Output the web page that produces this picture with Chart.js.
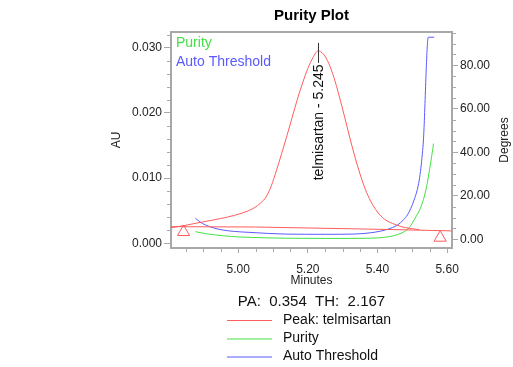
<!DOCTYPE html>
<html>
<head>
<meta charset="utf-8">
<script src="https://cdn.jsdelivr.net/npm/chart.js@4.4.1/dist/chart.umd.min.js"></script>
<style>
  html, body { margin: 0; padding: 0; background: #fff; }
  #wrap { width: 513px; height: 367px; }
</style>
</head>
<body>
<div id="wrap"><canvas id="purityChart" width="513" height="367"></canvas></div>
<script>
// 피크 곡선 (Minutes / AU)
const peakTime = [4.808, 4.843, 4.90, 4.95, 4.99, 5.02, 5.045, 5.065, 5.08, 5.095, 5.11, 5.125, 5.14, 5.155, 5.17, 5.185, 5.20, 5.215, 5.229, 5.245, 5.26, 5.275, 5.29, 5.305, 5.32, 5.335, 5.35, 5.365, 5.38, 5.40, 5.42, 5.45, 5.48, 5.52];
const peakAU = [0.0024, 0.0027, 0.0033, 0.0038, 0.0043, 0.0048, 0.0054, 0.0062, 0.0071, 0.0088, 0.0112, 0.0138, 0.0165, 0.0193, 0.0221, 0.0246, 0.0268, 0.0285, 0.0295, 0.0290, 0.0276, 0.0254, 0.0226, 0.0195, 0.0163, 0.0133, 0.0106, 0.0083, 0.0065, 0.0048, 0.0037, 0.0029, 0.0024, 0.0021];

// 베이스라인
const baseTime = [4.807, 5.05, 5.25, 5.45, 5.614];
const baseAU = [0.00255, 0.0025, 0.0023, 0.0021, 0.0019];

// 피크 시작/끝 마커
const markerTime = [4.843, 5.580];
const markerAU = [0.00173, 0.00086];

// Purity (Degrees)
const purityTime = [4.877, 4.906, 4.935, 4.98, 5.031, 5.136, 5.25, 5.381, 5.424, 5.438, 5.458, 5.477, 5.492, 5.505, 5.525, 5.539, 5.551, 5.561];
const purityDeg = [3.5, 2.6, 2.0, 1.3, 0.9, 0.5, 0.4, 0.5, 1.0, 1.3, 2.2, 3.5, 5.5, 8.9, 15, 22.7, 33.4, 44];

// Auto Threshold (Degrees)
const thresholdTime = [4.877, 4.89, 4.906, 4.93, 4.954, 4.99, 5.031, 5.136, 5.25, 5.33, 5.381, 5.41, 5.429, 5.458, 5.475, 5.486, 5.505, 5.520, 5.529, 5.532, 5.546, 5.563];
const thresholdDeg = [9.7, 8.0, 6.6, 5.2, 4.3, 3.6, 3.2, 2.4, 2.3, 2.4, 3.0, 3.8, 4.6, 6.6, 9.0, 11.2, 18, 27.3, 39.5, 45.7, 92.9, 92.9];

// 눈금
const minuteTicks = [5.0, 5.2, 5.4, 5.6];
const auTicks = [0, 0.01, 0.02, 0.03];
const degTicks = [0, 20, 40, 60, 80];

const peakName = "telmisartan - 5.245";
const infoText = "PA:  0.354  TH:  2.167";
const legendLabels = ["Peak: telmisartan", "Purity", "Auto Threshold"];

const RED = "#ff5c5c";
const GREEN = "#44e044";
const BLUE = "#5a5aff";
const AXIS = "#a8a8a8";
const FONT = "'Liberation Sans', Arial, sans-serif";

function zip(xs, ys) {
  return xs.map((x, i) => ({ x: x, y: ys[i] }));
}

// 보조 눈금 그리기
function minorTicks(ctx, scale, from, to, step, major, vertical, edge, len) {
  ctx.beginPath();
  for (let v = from; v <= to + 1e-9; v += step) {
    const r = Math.round(v / major) * major;
    if (Math.abs(v - r) < step / 10) continue;
    const p = Math.round(scale.getPixelForValue(v)) + 0.5;
    if (vertical) {
      ctx.moveTo(edge, p);
      ctx.lineTo(edge + len, p);
    } else {
      ctx.moveTo(p, edge);
      ctx.lineTo(p, edge + len);
    }
  }
  ctx.stroke();
}

const textPlugin = {
  id: "purityText",
  afterDraw(chart) {
    const { ctx, chartArea, scales } = chart;
    const xs = scales.x, yl = scales.yAU, yr = scales.yDeg;
    ctx.save();

    // 위쪽 테두리
    ctx.strokeStyle = AXIS;
    ctx.lineWidth = 2;
    ctx.beginPath();
    ctx.moveTo(chartArea.left - 1, chartArea.top);
    ctx.lineTo(chartArea.right + 1, chartArea.top);
    ctx.stroke();

    ctx.lineWidth = 1;
    minorTicks(ctx, xs, 4.85, 5.6, 0.05, 0.2, false, chartArea.bottom, 4);
    minorTicks(ctx, yl, 0, 0.032, 0.002, 0.01, true, chartArea.left, -4);
    minorTicks(ctx, yr, 0, 95, 5, 20, true, chartArea.right, 4);

    const cx = (chartArea.left + chartArea.right) / 2;

    // 제목
    ctx.fillStyle = "#000";
    ctx.font = "bold 15px " + FONT;
    ctx.textAlign = "center";
    ctx.textBaseline = "middle";
    ctx.fillText("Purity Plot", cx, 15.5);

    // 축 제목
    ctx.fillStyle = "#222";
    ctx.font = "12px " + FONT;
    ctx.fillText("Minutes", cx, 281);
    ctx.save();
    ctx.translate(117, (chartArea.top + chartArea.bottom) / 2);
    ctx.rotate(-Math.PI / 2);
    ctx.fillText("AU", 0, 0);
    ctx.restore();
    ctx.save();
    ctx.translate(505, (chartArea.top + chartArea.bottom) / 2);
    ctx.rotate(-Math.PI / 2);
    ctx.fillText("Degrees", 0, 0);
    ctx.restore();

    // 그래프 안 범례
    ctx.font = "14px " + FONT;
    ctx.textAlign = "left";
    ctx.fillStyle = GREEN;
    ctx.fillText("Purity", chartArea.left + 5, 43.5);
    ctx.fillStyle = BLUE;
    ctx.fillText("Auto Threshold", chartArea.left + 5, 62);

    // 피크 라벨
    let top = 0;
    peakAU.forEach((v, i) => { if (v > peakAU[top]) top = i; });
    const px = Math.round(xs.getPixelForValue(peakTime[top])) + 0.5;
    const py = yl.getPixelForValue(peakAU[top]);
    ctx.strokeStyle = "#333";
    ctx.beginPath();
    ctx.moveTo(px, py - 8);
    ctx.lineTo(px, py + 12);
    ctx.stroke();
    ctx.save();
    ctx.translate(px + 1, py + 13.5);
    ctx.rotate(-Math.PI / 2);
    ctx.fillStyle = "#111";
    ctx.textAlign = "right";
    ctx.fillText(peakName, 0, 0);
    ctx.restore();

    // 아래쪽 정보와 범례
    ctx.fillStyle = "#111";
    ctx.font = "15px " + FONT;
    ctx.textAlign = "center";
    ctx.fillText(infoText, cx, 301.5);

    const rows = [320, 338.5, 356.5];
    const colors = [RED, GREEN, BLUE];
    ctx.font = "14px " + FONT;
    ctx.textAlign = "left";
    rows.forEach((y, i) => {
      ctx.strokeStyle = colors[i];
      ctx.beginPath();
      ctx.moveTo(227, y + 0.5);
      ctx.lineTo(272, y + 0.5);
      ctx.stroke();
      ctx.fillText(legendLabels[i], 283, y);
    });

    ctx.restore();
  },
};

function axisOpts(extra) {
  return Object.assign({
    type: "linear",
    grid: { drawOnChartArea: false, drawTicks: true, tickLength: 7, color: AXIS, tickColor: AXIS },
    border: { display: true, color: AXIS, width: 2 },
  }, extra);
}

const chartCtx = document.getElementById("purityChart").getContext("2d");
const chart = new Chart(chartCtx, {
  type: "line",
  data: {
    datasets: [
      {
        label: "Baseline",
        data: zip(baseTime, baseAU),
        yAxisID: "yAU",
        borderColor: RED,
        borderWidth: 1,
        pointRadius: 0,
        tension: 0,
      },
      {
        label: "Peak: telmisartan",
        data: zip(peakTime, peakAU),
        yAxisID: "yAU",
        borderColor: RED,
        borderWidth: 1,
        pointRadius: 0,
        cubicInterpolationMode: "monotone",
      },
      {
        label: "Markers",
        data: zip(markerTime, markerAU),
        yAxisID: "yAU",
        showLine: false,
        pointStyle: "triangle",
        pointRadius: 7,
        pointBorderWidth: 1,
        pointBorderColor: RED,
        pointBackgroundColor: "rgba(0,0,0,0)",
      },
      {
        label: "Purity",
        data: zip(purityTime, purityDeg),
        yAxisID: "yDeg",
        borderColor: GREEN,
        borderWidth: 1,
        pointRadius: 0,
        cubicInterpolationMode: "monotone",
      },
      {
        label: "Auto Threshold",
        data: zip(thresholdTime, thresholdDeg),
        yAxisID: "yDeg",
        borderColor: BLUE,
        borderWidth: 1,
        pointRadius: 0,
        cubicInterpolationMode: "monotone",
      },
    ],
  },
  options: {
    responsive: false,
    animation: false,
    layout: { padding: { top: 32, left: 0, right: 0, bottom: 0 } },
    plugins: { legend: { display: false }, title: { display: false }, tooltip: { enabled: false } },
    scales: {
      x: axisOpts({
        position: "bottom",
        min: 4.807,
        max: 5.614,
        grid: { drawOnChartArea: false, drawTicks: true, tickLength: 5, color: AXIS, tickColor: AXIS },
        ticks: { color: "#222", font: { size: 12, family: FONT }, padding: 9, maxRotation: 0,
          callback: (v) => Number(v).toFixed(2) },
        afterBuildTicks: (s) => { s.ticks = minuteTicks.map((v) => ({ value: v })); },
        afterFit: (s) => { s.height = 119; },
      }),
      yAU: axisOpts({
        position: "left",
        min: -0.00072,
        max: 0.0324,
        ticks: { color: "#222", font: { size: 12, family: FONT }, padding: 2,
          callback: (v) => Number(v).toFixed(3) },
        afterBuildTicks: (s) => { s.ticks = auTicks.map((v) => ({ value: v })); },
        afterFit: (s) => { s.width = 171; },
      }),
      yDeg: axisOpts({
        position: "right",
        min: -4.0,
        max: 95.3,
        grid: { drawOnChartArea: false, drawTicks: true, tickLength: 6, color: AXIS, tickColor: AXIS },
        ticks: { color: "#222", font: { size: 12, family: FONT }, padding: 2,
          callback: (v) => Number(v).toFixed(2) },
        afterBuildTicks: (s) => { s.ticks = degTicks.map((v) => ({ value: v })); },
        afterFit: (s) => { s.width = 61; },
      }),
    },
  },
  plugins: [textPlugin],
});
</script>
</body>
</html>
